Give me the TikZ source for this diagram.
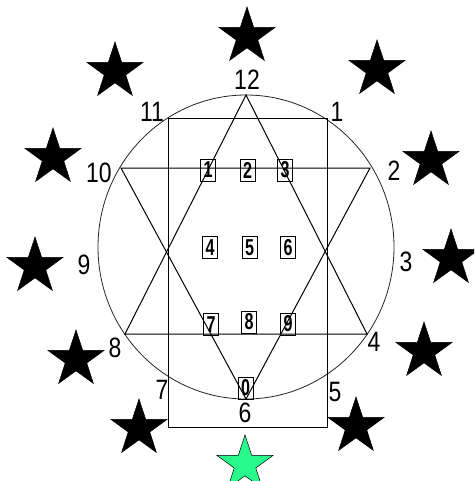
\documentclass[tikz,border=0pt]{standalone}
\usepackage{fontspec}
\setmainfont{Liberation Sans}
\usepackage{graphicx}
\usetikzlibrary{shapes.geometric}
\definecolor{stargreen}{RGB}{40,250,140}
\newcommand\biglab[1]{\scalebox{0.82}[1]{\fontsize{28}{28}\selectfont #1}}
\newcommand\boxlab[1]{\scalebox{0.7}[1]{\fontsize{23}{23}\selectfont\bfseries #1}}
\tikzset{
  starnode/.style={star, star points=5, star point ratio=2.6, minimum size=59pt, inner sep=0pt, fill=black, draw=black, line width=0.5pt},
  greenstar/.style={starnode, fill=stargreen},
  lab/.style={inner sep=0pt},
  digitbox/.style={draw, line width=1pt, minimum width=15pt, minimum height=22pt, inner sep=0pt},
  edge/.style={line width=1pt, black},
  ring/.style={line width=0.8pt, black!85}
}
\begin{document}
\begin{tikzpicture}[x=1pt, y=-1pt]
\useasboundingbox (0,0) rectangle (474,481);
\clip (0,0) rectangle (474,481);
\fill[white] (0,0) rectangle (474,481);
% hexagram vertices
\coordinate (v12) at (246,95);
\coordinate (v2) at (370,168);
\coordinate (v4) at (367,334);
\coordinate (v6) at (246,399);
\coordinate (v8) at (125,334);
\coordinate (v10) at (121,168);
\coordinate (c) at (246,247);
% circle
\draw[ring] (c) ellipse [x radius=148, y radius=152];
% rectangle
\coordinate (r1) at (168,119);
\coordinate (r2) at (327,427);
\draw[edge] (r1) rectangle (r2);
% triangles
\draw[edge] (v12) -- (v4) -- (v8) -- cycle;
\draw[edge] (v10) -- (v2) -- (v6) -- cycle;
% boxed digits
\node[digitbox] (b1) at (208,170) {\boxlab{1}};
\node[digitbox] (b2) at (247.5,170) {\boxlab{2}};
\node[digitbox] (b3) at (285,170) {\boxlab{3}};
\node[digitbox] (b4) at (210,247.5) {\boxlab{4}};
\node[digitbox] (b5) at (249.5,247.5) {\boxlab{5}};
\node[digitbox] (b6) at (288,247.5) {\boxlab{6}};
\node[digitbox] (b7) at (211,324.5) {\boxlab{7}};
\node[digitbox] (b8) at (249,322) {\boxlab{8}};
\node[digitbox] (b9) at (288,324) {\boxlab{9}};
\node[digitbox] (b0) at (245.5,388) {\boxlab{0}};
% clock labels
\node[lab] (l12) at (247,80) {\biglab{12}};
\node[lab] (l11) at (152,112) {\biglab{11}};
\node[lab] (l1) at (337,112) {\biglab{1}};
\node[lab] (l10) at (99,173) {\biglab{10}};
\node[lab] (l2) at (394,171) {\biglab{2}};
\node[lab] (l9) at (84,265) {\biglab{9}};
\node[lab] (l3) at (406,262) {\biglab{3}};
\node[lab] (l8) at (115,348) {\biglab{8}};
\node[lab] (l4) at (374,342) {\biglab{4}};
\node[lab] (l7) at (162,390) {\biglab{7}};
\node[lab] (l5) at (335,392) {\biglab{5}};
\node[lab] (l6) at (245,413) {\biglab{6}};
% stars
\node[starnode] (s12) at (247,36.5) {};
\node[starnode] (s11) at (115,71.5) {};
\node[starnode] (s1) at (377,69.5) {};
\node[starnode] (s10) at (53,157.5) {};
\node[starnode] (s2) at (431,160.5) {};
\node[starnode] (s9) at (35,266.5) {};
\node[starnode] (s3) at (451,258.5) {};
\node[starnode] (s8) at (76,359.5) {};
\node[starnode] (s4) at (424,351.5) {};
\node[starnode] (s7) at (139,428.5) {};
\node[starnode] (s5) at (356,426.5) {};
\node[greenstar] (s6) at (245,464.5) {};
\end{tikzpicture}
\end{document}
